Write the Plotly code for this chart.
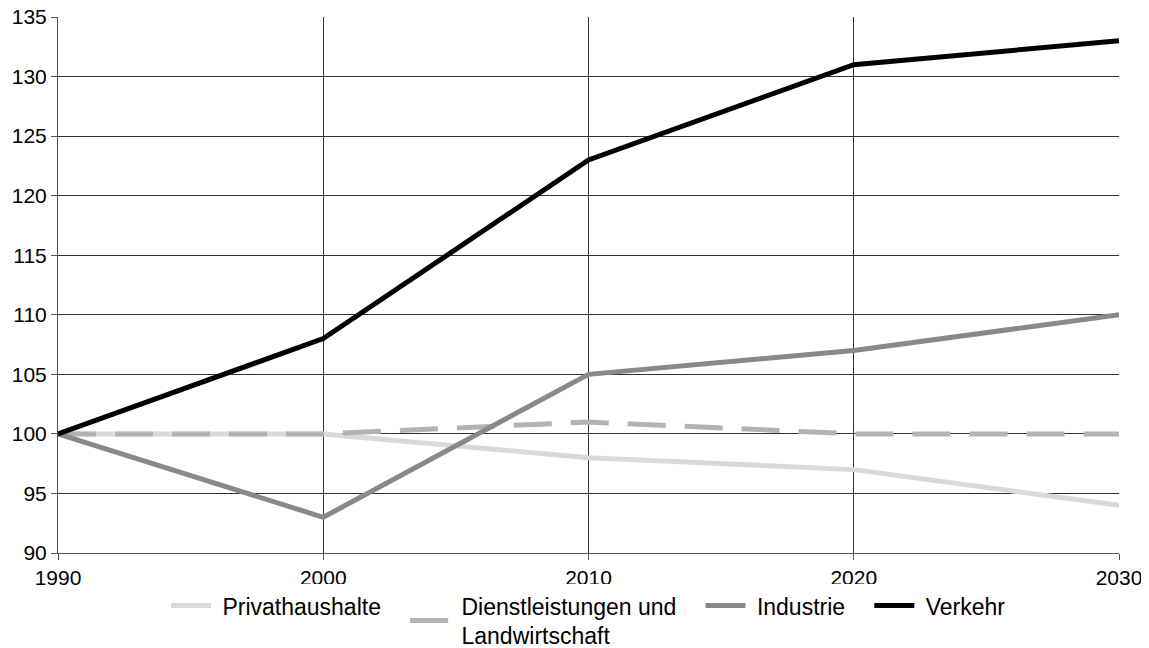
import plotly.graph_objects as go

years = [1990, 2000, 2010, 2020, 2030]
privathaushalte = [100, 100, 98, 97, 94]
dienstleistungen = [100, 100, 101, 100, 100]
industrie = [100, 93, 105, 107, 110]
verkehr = [100, 108, 123, 131, 133]

lead = "\u00a0"
pad = "\u00a0\u00a0\u00a0"
names = [lead + "Privathaushalte" + pad,
         lead + "Dienstleistungen und" + pad + "<br>" + lead + "Landwirtschaft",
         lead + "Industrie" + pad, lead + "Verkehr"]
series = [privathaushalte, dienstleistungen, industrie, verkehr]
colors = ["#d9d9d9", "#b3b3b3", "#898989", "#000000"]
dashes = ["solid", "38px,19px", "solid", "solid"]

fig = go.Figure()
for n, s, c, d in zip(names, series, colors, dashes):
    fig.add_trace(go.Scatter(x=years, y=s, name=n, mode="lines",
                             line=dict(color=c, width=5, dash=d)))

fig.update_layout(
    width=1149, height=648,
    margin=dict(l=50, r=38, t=9, b=103, autoexpand=False),
    paper_bgcolor="white", plot_bgcolor="white",
    font=dict(family="Liberation Sans, Arial, sans-serif", size=21, color="#000"),
    legend=dict(orientation="h", x=0.5, xanchor="center", y=-0.058, yanchor="top",
                font=dict(size=23), itemwidth=40, tracegroupgap=0),
    showlegend=True,
)
fig.update_xaxes(range=[1990, 2030], tickvals=years, ticks="outside", ticklen=6,
                 tickcolor="#555", showgrid=True, gridcolor="#333", gridwidth=1,
                 showline=True, linecolor="#555", linewidth=1, zeroline=False,
                 tickfont=dict(size=21), automargin=False, ticklabeloverflow="allow")
fig.update_yaxes(range=[90, 135], dtick=5, ticks="outside", ticklen=6,
                 tickcolor="#555", showgrid=True, gridcolor="#333", gridwidth=1,
                 showline=True, linecolor="#555", linewidth=1, zeroline=False,
                 tickfont=dict(size=21), automargin=False, ticklabelstandoff=0,
                 ticklabeloverflow="allow")

fig.write_html("out.html")
